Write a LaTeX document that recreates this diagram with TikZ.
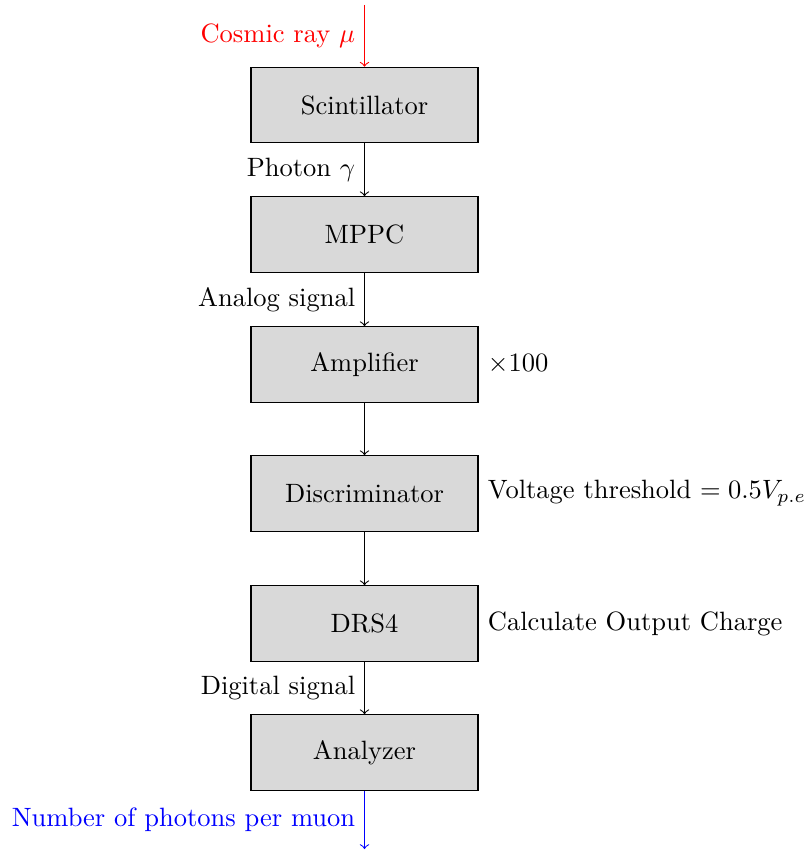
\documentclass[tikz,border=0pt]{standalone}
\begin{document}
\begin{tikzpicture}[x=0.37736pt,y=-0.37736pt,
  blk/.style={draw=black,fill=black!15,minimum width=85.66pt,minimum height=28.5pt,inner sep=0pt},
  lab/.style={anchor=east},
  rlab/.style={anchor=west}]
\useasboundingbox (0,0) rectangle (810,850);
\node[blk] (sc) at (364.5,105) {Scintillator};
\node[blk] (mp) at (364.5,234.5) {MPPC};
\node[blk] (am) at (364.5,364.5) {Amplifier};
\node[blk] (di) at (364.5,493.5) {Discriminator};
\node[blk] (dr) at (364.5,623.5) {DRS4};
\node[blk] (an) at (364.5,752.5) {Analyzer};
\coordinate (top) at (364.5,5);
\coordinate (bot) at (364.5,849);
\draw[->,red] (top) -- node[lab,text=red] {Cosmic ray $\mu$} (sc.north);
\draw[->] (sc) -- node[lab] {Photon $\gamma$} (mp);
\draw[->] (mp) -- node[lab] {Analog signal} (am);
\draw[->] (am) -- (di);
\draw[->] (di) -- (dr);
\draw[->] (dr) -- node[lab] {Digital signal} (an);
\draw[->,blue] (an.south) -- node[lab,text=blue] {Number of photons per muon} (bot);
\node[rlab] (t1) at (am.east) {$\times100$};
\node[rlab] (t2) at (di.east) {Voltage threshold $=0.5V_{p.e}$};
\node[rlab] (t3) at (dr.east) {Calculate Output Charge};
\end{tikzpicture}
\end{document}
